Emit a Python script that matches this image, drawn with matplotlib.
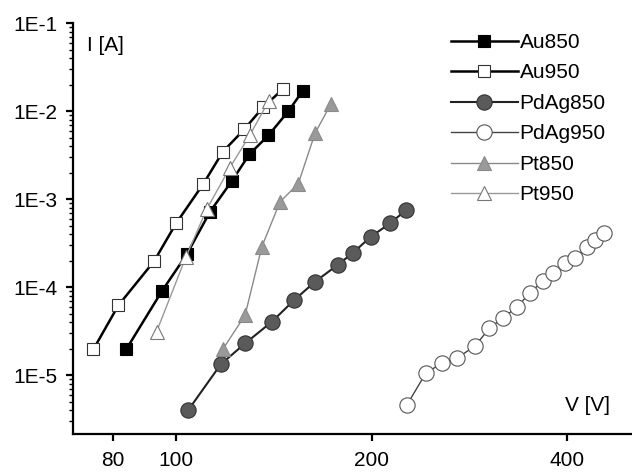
import matplotlib
matplotlib.use("Agg")
import matplotlib.pyplot as plt
from matplotlib.ticker import FixedLocator, NullFormatter, LogLocator

plt.rcParams['font.family'] = ['Liberation Sans', 'DejaVu Sans']

# V [V] and I [A] values
au850_v = [83.8, 95.1, 103.9, 112.8, 121.8, 129.7, 138.7, 148.9, 156.6]
au850_i = [1.96e-5, 9.0e-5, 2.37e-4, 7.2e-4, 1.6e-3, 3.24e-3, 5.3e-3, 1.0e-2, 1.7e-2]

au950_v = [74.6, 81.5, 92.5, 100.0, 110.2, 118.0, 127.3, 136.0, 145.9]
au950_i = [1.96e-5, 6.2e-5, 1.97e-4, 5.3e-4, 1.5e-3, 3.45e-3, 6.2e-3, 1.1e-2, 1.77e-2]

pdag850_v = [104.4, 117.2, 127.7, 140.4, 151.9, 163.6, 177.5, 187.3, 199.5, 213.4, 225.9]
pdag850_i = [4.0e-6, 1.33e-5, 2.29e-5, 4.04e-5, 7.1e-5, 1.15e-4, 1.8e-4, 2.47e-4,
             3.75e-4, 5.3e-4, 7.5e-4]

pdag950_v = [226.5, 242.4, 256.3, 270.9, 288.4, 303.4, 318.8, 334.4, 350.4, 367.3,
             380.6, 396.7, 411.0, 428.4, 441.1, 455.4]
pdag950_i = [4.56e-6, 1.06e-5, 1.36e-5, 1.57e-5, 2.14e-5, 3.4e-5, 4.5e-5, 5.9e-5,
             8.6e-5, 1.18e-4, 1.43e-4, 1.86e-4, 2.12e-4, 2.83e-4, 3.42e-4, 4.07e-4]

pt850_v = [118.2, 127.7, 135.5, 144.5, 154.2, 163.6, 173.0]
pt850_i = [2.0e-5, 4.8e-5, 2.87e-4, 9.3e-4, 1.5e-3, 5.6e-3, 1.2e-2]

pt950_v = [93.3, 103.6, 111.5, 121.0, 130.0, 138.8]
pt950_i = [3.1e-5, 2.22e-4, 7.7e-4, 2.28e-3, 5.4e-3, 1.3e-2]

x_ticks = [80, 100, 200, 400]
y_ticks = [1e-5, 1e-4, 1e-3, 1e-2, 1e-1]
y_tick_labels = ['1E-5', '1E-4', '1E-3', '1E-2', '1E-1']

fig = plt.figure(figsize=(6.32, 4.72), dpi=100)
ax = fig.add_axes([0.1155, 0.0805, 0.8845, 0.8705])

ax.plot(pdag950_v, pdag950_i, color='#444444', lw=1.0, marker='o', ms=11,
        mfc='white', mec='#555555', mew=0.8, label='PdAg950', zorder=2)
ax.plot(pdag850_v, pdag850_i, color='#222222', lw=1.5, marker='o', ms=11,
        mfc='#5a5a5a', mec='#333333', mew=0.8, label='PdAg850', zorder=2)
ax.plot(pt850_v, pt850_i, color='#8a8a8a', lw=1.0, marker='^', ms=10,
        mfc='#9a9a9a', mec='#8a8a8a', mew=0.8, label='Pt850', zorder=3)
ax.plot(au950_v, au950_i, color='black', lw=1.8, marker='s', ms=9,
        mfc='white', mec='#333333', mew=0.8, label='Au950', zorder=3)
ax.plot(au850_v, au850_i, color='black', lw=1.8, marker='s', ms=9,
        mfc='black', mec='black', mew=0.8, label='Au850', zorder=3)
ax.plot(pt950_v, pt950_i, color='#999999', lw=1.0, marker='^', ms=10,
        mfc='white', mec='#777777', mew=0.8, label='Pt950', zorder=4)

ax.set_xscale('log')
ax.set_yscale('log')
ax.set_xlim(69.4, 503)
ax.set_ylim(2.14e-6, 1e-1)

ax.xaxis.set_major_locator(FixedLocator(x_ticks))
ax.xaxis.set_minor_locator(FixedLocator([]))
ax.set_xticklabels([str(t) for t in x_ticks])
ax.xaxis.set_minor_formatter(NullFormatter())

ax.yaxis.set_major_locator(FixedLocator(y_ticks))
ax.set_yticklabels(y_tick_labels)
ax.yaxis.set_minor_locator(LogLocator(base=10, subs=range(2, 10)))
ax.yaxis.set_minor_formatter(NullFormatter())

for s in ['top', 'right']:
    ax.spines[s].set_visible(False)
ax.spines['left'].set_linewidth(1.6)
ax.spines['bottom'].set_linewidth(1.6)
ax.tick_params(axis='both', which='major', direction='out', length=5, width=1.6,
               labelsize=15, pad=6)
ax.tick_params(axis='y', which='minor', direction='out', length=3, width=1.0)
ax.tick_params(axis='x', pad=7)

ax.text(0.025, 0.945, 'I [A]', transform=ax.transAxes, fontsize=15,
        ha='left', va='center')
ax.text(0.92, 0.07, 'V [V]', transform=ax.transAxes, fontsize=15,
        ha='center', va='center')

handles, labels = ax.get_legend_handles_labels()
order = ['Au850', 'Au950', 'PdAg850', 'PdAg950', 'Pt850', 'Pt950']
hmap = dict(zip(labels, handles))
ax.legend([hmap[k] for k in order], order, loc='upper left',
          bbox_to_anchor=(0.7136, 0.93), bbox_transform=fig.transFigure,
          frameon=False, fontsize=15, handlelength=3.2, handletextpad=0.1,
          labelspacing=0.55, borderpad=0, borderaxespad=0)

fig.savefig('out.png', dpi=100)
